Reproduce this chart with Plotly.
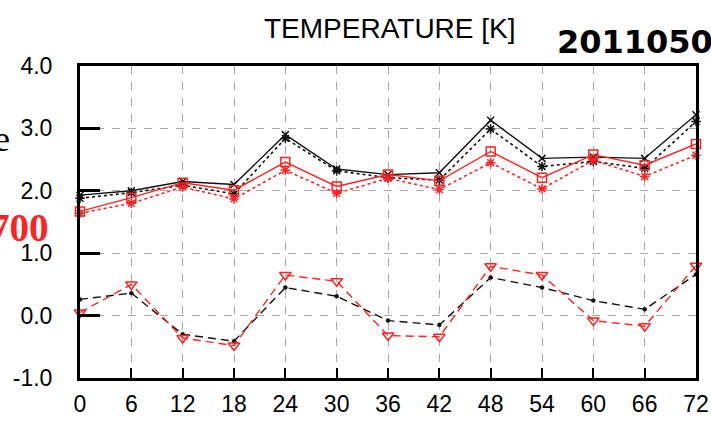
import plotly.graph_objects as go

# Forecast lead time (hours)
hours = [0, 6, 12, 18, 24, 30, 36, 42, 48, 54, 60, 66, 72]

# RMSE series
rmse_black = [1.93, 2.00, 2.15, 2.10, 2.90, 2.35, 2.26, 2.29, 3.13, 2.52, 2.54, 2.52, 3.22]
rmse_black_alt = [1.88, 1.97, 2.09, 1.95, 2.84, 2.32, 2.21, 2.17, 2.99, 2.39, 2.47, 2.36, 3.11]
rmse_red = [1.67, 1.89, 2.13, 2.01, 2.46, 2.07, 2.26, 2.16, 2.63, 2.21, 2.58, 2.41, 2.75]
rmse_red_alt = [1.64, 1.80, 2.06, 1.87, 2.33, 1.96, 2.20, 2.02, 2.45, 2.03, 2.49, 2.23, 2.57]

# Bias series
bias_black = [0.26, 0.36, -0.30, -0.41, 0.45, 0.31, -0.08, -0.15, 0.61, 0.45, 0.24, 0.10, 0.66]
bias_red = [0.05, 0.50, -0.36, -0.48, 0.65, 0.55, -0.32, -0.34, 0.79, 0.65, -0.08, -0.17, 0.80]

y_ticks = [-1.0, 0.0, 1.0, 2.0, 3.0, 4.0]

RED = "#ff2222"
BLACK = "#111111"

fig = go.Figure()


def add(y, color, dash, width, symbol, size, mwidth=1.5):
    fig.add_trace(go.Scatter(
        x=hours, y=y, mode="lines+markers",
        line=dict(color=color, dash=dash, width=width),
        marker=dict(symbol=symbol, size=size, color=color,
                    line=dict(color=color, width=mwidth)),
        cliponaxis=False, showlegend=False,
    ))


add(bias_black, BLACK, "8px,5px", 1.4, "circle", 4, 0.5)
add(bias_red, RED, "8px,5px", 1.4, "triangle-down-open", 10)
add(rmse_black_alt, BLACK, "3px,3px", 1.6, "asterisk-open", 8)
add(rmse_black, BLACK, "solid", 1.4, "x-thin-open", 7)
add(rmse_red_alt, RED, "3px,3px", 1.6, "asterisk-open", 8)
add(rmse_red, RED, "solid", 1.4, "square-open", 9)

W, H = 711, 422
L, R, T, B = 80, 15, 66, 44
pw, ph = W - L - R, H - T - B


def px(x):
    return (x - L) / pw


def py(y):
    return (H - B - y) / ph


fig.update_layout(
    width=W, height=H,
    margin=dict(l=L, r=R, t=T, b=B, pad=0),
    paper_bgcolor="white", plot_bgcolor="white",
    font=dict(family="Liberation Sans", color="black"),
    xaxis=dict(
        range=[0, 72], tickvals=hours, ticktext=[str(h) for h in hours],
        showline=True, mirror=True, linecolor="black", linewidth=3,
        ticks="inside", ticklen=10, tickwidth=2, tickcolor="black",
        showgrid=True, gridcolor="#aaaaaa", gridwidth=1, griddash="8px,8px",
        zeroline=False, tickfont=dict(size=23, family="Liberation Sans"),
        ticklabelstandoff=3, automargin=False,
    ),
    yaxis=dict(
        range=[-1, 4], tickvals=y_ticks, ticktext=[f"{v:.1f}" for v in y_ticks],
        showline=True, mirror=True, linecolor="black", linewidth=3,
        ticks="inside", ticklen=20, tickwidth=3, tickcolor="black",
        showgrid=True, gridcolor="#aaaaaa", gridwidth=1, griddash="8px,8px",
        zeroline=False, tickfont=dict(size=23, family="Liberation Sans"),
        ticklabelstandoff=20, automargin=False,
    ),
    annotations=[
        dict(text="TEMPERATURE [K]", xref="paper", yref="paper",
             x=px(262), y=py(28), xanchor="left", yanchor="middle",
             showarrow=False, font=dict(size=28, family="Liberation Sans")),
        dict(text="<b>2011050</b>", xref="paper", yref="paper",
             x=px(555), y=py(42), xanchor="left", yanchor="middle",
             showarrow=False, font=dict(size=32, family="DejaVu Sans")),
        dict(text="e", xref="paper", yref="paper",
             x=px(12), y=py(139), xanchor="right", yanchor="middle",
             showarrow=False, font=dict(size=36, family="Liberation Serif")),
        dict(text="<b>700</b>", xref="paper", yref="paper",
             x=px(51), y=py(228), xanchor="right", yanchor="middle",
             showarrow=False, font=dict(size=39, family="Liberation Serif", color=RED)),
    ],
)

fig.write_html("out.html")
